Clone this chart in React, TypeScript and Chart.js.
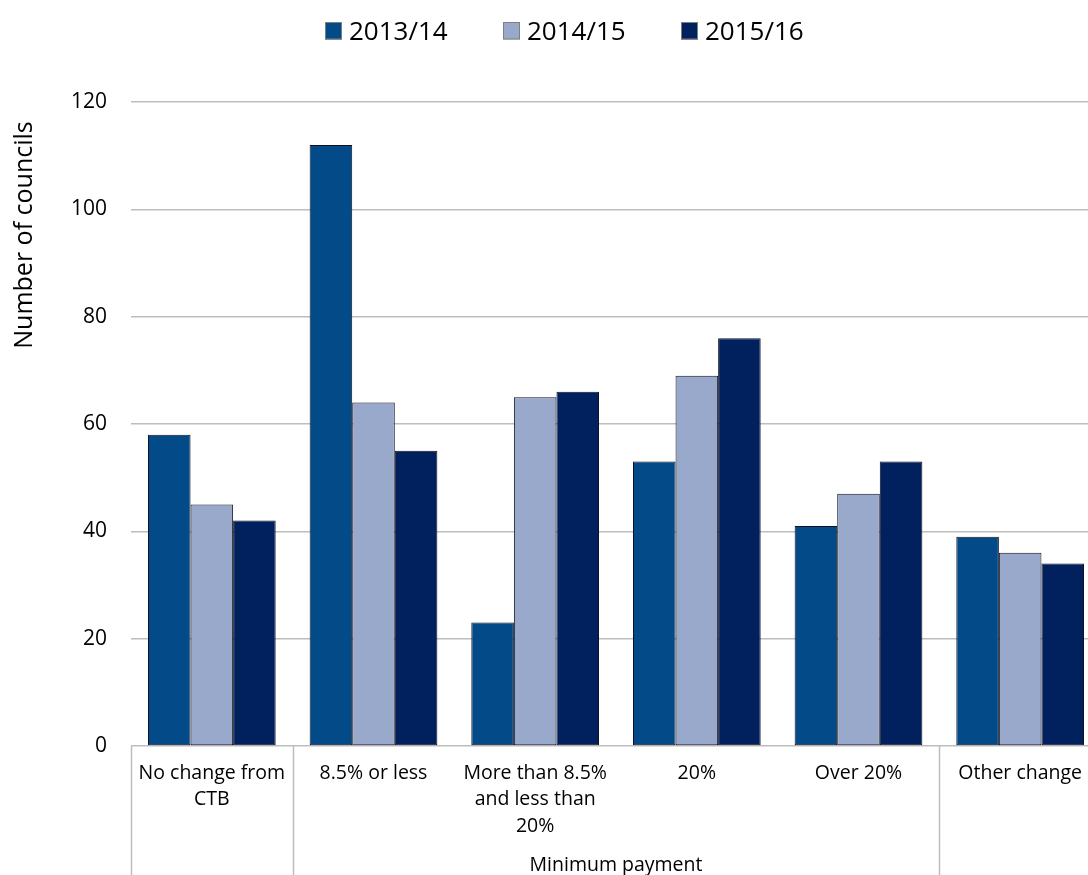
import { useEffect, useRef } from "react";
import { Chart, registerables } from "chart.js";

Chart.register(...registerables);

// Category labels (each entry is the wrapped lines of one label)
const categories: string[][] = [
  ["No change from", "CTB"],
  ["8.5% or less"],
  ["More than 8.5%", "and less than", "20%"],
  ["20%"],
  ["Over 20%"],
  ["Other change"],
];

// Outer category grouping under the axis
const groupLabel = "Minimum payment";
const groupFirst = 1;
const groupLast = 4;

const seriesLabels = ["2013/14", "2014/15", "2015/16"];
const values2013 = [58, 112, 23, 53, 41, 39];
const values2014 = [45, 64, 65, 69, 47, 36];
const values2015 = [42, 55, 66, 76, 53, 34];
const seriesColors = ["#034b88", "#98a9cb", "#00205e"];

const yTitle = "Number of councils";
const yMin = 0;
const yMax = 120;
const yStep = 20;

const FONT = "'Open Sans', sans-serif";
const GRID = "#bdbdbd";

const decorPlugin = {
  id: "decor",
  afterDraw(chart: any) {
    const { ctx, chartArea } = chart;
    const x = chart.scales.x;
    const n = categories.length;
    const catW = (chartArea.right - chartArea.left) / n;
    const bottom = chart.height;

    ctx.save();

    // Legend
    ctx.font = `26px ${FONT}`;
    ctx.textBaseline = "alphabetic";
    ctx.textAlign = "left";
    seriesLabels.forEach((label, i) => {
      const lx = 325 + i * 178;
      ctx.fillStyle = seriesColors[i];
      ctx.fillRect(lx, 22.5, 17, 17);
      ctx.strokeStyle = "#7f7f7f";
      ctx.lineWidth = 1;
      ctx.strokeRect(lx + 0.5, 22.5, 16, 16.5);
      ctx.fillStyle = "#000";
      ctx.fillText(label, lx + 24, 39.5);
    });

    // Y axis title
    ctx.save();
    ctx.translate(32, 235);
    ctx.rotate(-Math.PI / 2);
    ctx.font = `25px ${FONT}`;
    ctx.textAlign = "center";
    ctx.fillStyle = "#000";
    ctx.fillText(yTitle, 0, 0);
    ctx.restore();

    // Separators below the axis
    const edges = [0, groupFirst, groupLast + 1, n];
    ctx.strokeStyle = GRID;
    ctx.lineWidth = 1.5;
    edges.forEach((e) => {
      const px = Math.round(x.getPixelForValue(e) - catW / 2) + 0.5;
      ctx.beginPath();
      ctx.moveTo(px, chartArea.bottom);
      ctx.lineTo(px, bottom);
      ctx.stroke();
    });

    // Category labels
    ctx.font = `19.5px ${FONT}`;
    ctx.fillStyle = "#000";
    ctx.textAlign = "center";
    ctx.textBaseline = "middle";
    categories.forEach((lines, i) => {
      const cx = x.getPixelForValue(i);
      lines.forEach((line, k) => {
        ctx.fillText(line, cx, 773 + k * 26.7);
      });
    });

    // Group label
    const gx = (x.getPixelForValue(groupFirst) + x.getPixelForValue(groupLast)) / 2;
    ctx.fillText(groupLabel, gx, 865);

    ctx.restore();
  },
};

export default function App() {
  const canvasRef = useRef<HTMLCanvasElement | null>(null);

  useEffect(() => {
    const canvas = canvasRef.current;
    if (!canvas) return;
    const chart = new Chart(canvas, {
      type: "bar",
      data: {
        labels: categories.map((c) => c.join(" ")),
        datasets: [values2013, values2014, values2015].map((data, i) => ({
          label: seriesLabels[i],
          data,
          backgroundColor: seriesColors[i],
          borderColor: "#101222",
          borderWidth: 1,
          borderSkipped: false,
          barPercentage: 1,
          categoryPercentage: 0.79,
        })),
      },
      options: {
        responsive: false,
        animation: false,
        layout: { padding: { top: 102, bottom: 129, left: 0, right: 9 } },
        plugins: {
          legend: { display: false },
          tooltip: { enabled: false },
        },
        scales: {
          x: { display: false },
          y: {
            min: yMin,
            max: yMax,
            ticks: {
              stepSize: yStep,
              padding: 24,
              color: "#000",
              font: { family: FONT, size: 21 },
            },
            grid: { color: GRID, lineWidth: 1.5, drawTicks: false },
            border: { display: false },
            afterFit(scale: any) {
              scale.width = 131;
            },
          },
        },
      },
      plugins: [decorPlugin],
    });
    return () => chart.destroy();
  }, []);

  return (
    <div
      style={{
        position: "absolute",
        left: 0,
        top: 0,
        width: 1088,
        height: 875,
        overflow: "hidden",
        background: "#fff",
      }}
    >
      <canvas ref={canvasRef} width={1110} height={875} style={{ display: "block" }} />
    </div>
  );
}
